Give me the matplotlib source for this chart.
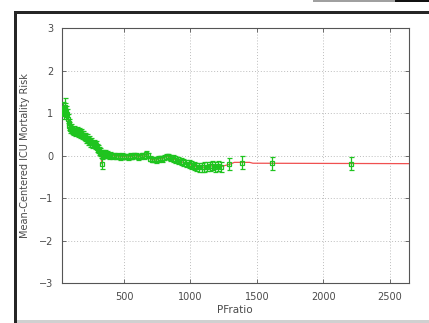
#!/usr/bin/env python3
"""
Mean-centered ICU mortality risk vs PFratio (gnuplot style screenshot).
"""
import matplotlib
matplotlib.use("Agg")
import matplotlib.pyplot as plt
from matplotlib.patches import Rectangle

# dense early part
x1 = [32, 38, 45, 52, 58, 64, 70, 76, 82, 88, 95, 102, 110, 118, 126, 134, 142, 150, 158, 166,
      174, 182, 190, 198, 206, 214, 222, 230, 238, 246, 254, 262, 270, 278, 286, 294, 302, 310,
      318, 326, 332, 338]
y1 = [1.05, 1.12, 1.00, 1.10, 1.15, 1.05, 0.98, 0.88, 0.78, 0.70, 0.64, 0.66, 0.60, 0.58, 0.62,
      0.56, 0.59, 0.54, 0.57, 0.52, 0.55, 0.50, 0.49, 0.46, 0.45, 0.39, 0.42, 0.36, 0.37, 0.31,
      0.34, 0.27, 0.29, 0.25, 0.26, 0.19, 0.17, 0.11, 0.09, 0.04, -0.18, 0.05]
e1 = [0.12, 0.14, 0.12, 0.15, 0.22, 0.13, 0.12, 0.11, 0.10, 0.10, 0.09, 0.09, 0.09, 0.09, 0.09,
      0.09, 0.09, 0.09, 0.09, 0.09, 0.09, 0.09, 0.09, 0.09, 0.09, 0.09, 0.09, 0.09, 0.09, 0.09,
      0.09, 0.09, 0.09, 0.09, 0.09, 0.09, 0.09, 0.09, 0.09, 0.09, 0.12, 0.09]

# flat middle part
x2 = [345, 355, 365, 375, 385, 395, 410, 425, 440, 455, 470, 485, 500, 515, 530, 545, 560, 575,
      590, 605, 620, 635, 650, 665, 680, 695, 710, 725, 740, 755, 770, 785, 800, 815, 830]
y2 = [0.03, 0.07, 0.01, 0.05, 0.00, 0.03, -0.01, 0.02, -0.02, 0.01, -0.03, 0.00, -0.02, -0.01,
      -0.03, 0.00, -0.02, 0.02, 0.01, -0.03, -0.01, 0.02, -0.01, 0.05, 0.02, -0.06, -0.09, -0.08,
      -0.10, -0.07, -0.05, -0.07, -0.04, -0.02, -0.01]
e2 = [0.06] * len(x2)

# dip around 1000
x3 = [845, 865, 885, 905, 925, 945, 965, 985, 1005, 1025, 1045, 1065, 1085, 1105, 1125, 1145,
      1165, 1185, 1205, 1230]
y3 = [-0.04, -0.06, -0.09, -0.11, -0.13, -0.15, -0.18, -0.19, -0.21, -0.23, -0.26, -0.27, -0.27,
      -0.26, -0.25, -0.24, -0.23, -0.25, -0.24, -0.25]
e3 = [0.07, 0.08, 0.08, 0.08, 0.09, 0.09, 0.09, 0.09, 0.10, 0.10, 0.10, 0.10, 0.11, 0.11, 0.11,
      0.11, 0.11, 0.12, 0.12, 0.12]

# sparse tail
x4 = [1289, 1389, 1613, 2209]
y4 = [-0.19, -0.16, -0.17, -0.18]
e4 = [0.15, 0.15, 0.15, 0.15]

# red fitted line beyond the data
line_tail_x = [1300, 1330, 1445, 1470, 2645]
line_tail_y = [-0.19, -0.15, -0.15, -0.17, -0.18]

TEXT = "#4a4a4a"
GREEN = "#1fc41f"
RED = "#f05050"

px = x1 + x2 + x3 + x4
py = y1 + y2 + y3 + y4
pe = e1 + e2 + e3 + e4

fig = plt.figure(figsize=(4.29, 3.23), dpi=100)
fig.patch.set_facecolor("white")
ax = fig.add_axes([0.1434, 0.1223, 0.81, 0.7895])

ax.plot(px[:-4] + line_tail_x, py[:-4] + line_tail_y, color=RED, lw=0.9, zorder=2)
ax.errorbar(px, py, yerr=pe, fmt="s", ms=3.4, mfc="none", mec=GREEN, mew=0.9,
            ecolor=GREEN, elinewidth=0.9, capsize=1.8, capthick=0.9, zorder=3)

ax.set_xlim(29, 2645)
ax.set_ylim(-3, 3)
ax.set_xticks([500, 1000, 1500, 2000, 2500])
ax.set_yticks([-3, -2, -1, 0, 1, 2, 3])
ax.grid(True, color="#bdbdbd", ls=(0, (1, 2)), lw=0.7)
ax.tick_params(direction="in", length=3, width=0.6, top=True, right=True,
               labelsize=7, colors="#555555", labelcolor=TEXT, pad=6)
for s in ax.spines.values():
    s.set_color("#555555")
    s.set_linewidth(0.8)
ax.set_xlabel("PFratio", fontsize=7.5, color=TEXT, labelpad=2)
ax.set_ylabel("Mean-Centered ICU Mortality Risk", fontsize=7, color=TEXT, labelpad=6)

# screenshot window frame
W, H = 429.0, 323.0
fig.add_artist(Rectangle((13.5 / W, 0), 3 / W, (H - 11) / H, transform=fig.transFigure,
                         color="#262626", lw=0))
fig.add_artist(Rectangle((13.5 / W, (H - 14) / H), (W - 13.5) / W, 3 / H, transform=fig.transFigure,
                         color="#262626", lw=0))
fig.add_artist(Rectangle((16.5 / W, 0), (W - 16.5) / W, 3 / H, transform=fig.transFigure,
                         color="#d0d0d0", lw=0))
fig.add_artist(Rectangle((313 / W, (H - 1.5) / H), 82 / W, 1.5 / H, transform=fig.transFigure,
                         color="#a0a0a0", lw=0))
fig.add_artist(Rectangle((395 / W, (H - 2) / H), 34 / W, 2 / H, transform=fig.transFigure,
                         color="#111111", lw=0))

fig.savefig("out.png", dpi=100)
